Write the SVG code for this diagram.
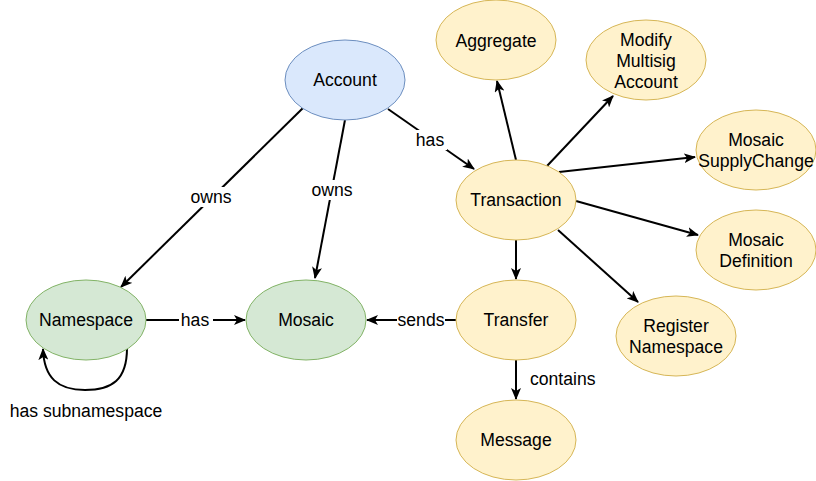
<svg xmlns="http://www.w3.org/2000/svg" width="816" height="481" viewBox="0 0 816 481">
<defs>
<marker id="arr" markerUnits="userSpaceOnUse" markerWidth="12" markerHeight="10" viewBox="0 0 12 10" refX="11" refY="5" orient="auto">
<path d="M0,0 L12,5 L0,10 L3,5 Z" fill="#000"/>
</marker>
<style>
text{font-family:"Liberation Sans",Arial,sans-serif;font-size:17.6px;fill:#000}
.n{text-anchor:middle;dominant-baseline:central}
.blue{fill:#dae8fc;stroke:#6c8ebf;stroke-width:1}
.green{fill:#d5e8d4;stroke:#82b366;stroke-width:1}
.yellow{fill:#fff2cc;stroke:#d6b656;stroke-width:1}
.e{fill:none;stroke:#000;stroke-width:2;marker-end:url(#arr)}
.lb{fill:#fff;stroke:none}
</style>
</defs>
<rect width="816" height="481" fill="#fff"/>
<g id="connectors">
<line class="e" x1="303" y1="108" x2="121" y2="287"/>
<line class="e" x1="345" y1="120" x2="315" y2="278"/>
<line class="e" x1="388" y1="109" x2="474" y2="169"/>
<line class="e" x1="516" y1="160" x2="497" y2="81"/>
<line class="e" x1="547" y1="166" x2="613" y2="96"/>
<line class="e" x1="559" y1="172" x2="695" y2="157"/>
<line class="e" x1="576" y1="201" x2="698" y2="235"/>
<line class="e" x1="558" y1="230" x2="638" y2="302"/>
<line class="e" x1="516" y1="240" x2="516" y2="279"/>
<line class="e" x1="146" y1="320" x2="245" y2="320"/>
<line class="e" x1="456" y1="320" x2="367" y2="320"/>
<line class="e" x1="516" y1="360" x2="516" y2="399"/>
<path class="e" d="M127,348 C127,380 112,390 85,390 C58,390 44,378 43,349"/>
<rect class="lb" x="187" y="187" width="48" height="20"/>
<text class="n" x="211" y="197">owns</text>
<rect class="lb" x="308" y="180" width="48" height="20"/>
<text class="n" x="332" y="190">owns</text>
<rect class="lb" x="413" y="130" width="34" height="20"/>
<text class="n" x="430" y="140">has</text>
<rect class="lb" x="179" y="310" width="34" height="20"/>
<text class="n" x="195" y="320">has</text>
<rect class="lb" x="397" y="310" width="48" height="20"/>
<text class="n" x="421" y="320">sends</text>
<text x="530" y="385">contains</text>
<text class="n" x="86" y="411">has subnamespace</text>
</g>
<g id="account"><ellipse class="blue" cx="345" cy="80" rx="60" ry="40"/><text class="n" x="345" y="80">Account</text></g>
<g id="aggregate"><ellipse class="yellow" cx="496" cy="40" rx="60" ry="40"/><text class="n" x="496" y="41">Aggregate</text></g>
<g id="modify-multisig"><ellipse class="yellow" cx="646" cy="60" rx="60" ry="40"/><text class="n" x="646" y="40">Modify</text><text class="n" x="646" y="61">Multisig</text><text class="n" x="646" y="82">Account</text></g>
<g id="mosaic-supplychange"><ellipse class="yellow" cx="756" cy="150" rx="60" ry="40"/><text class="n" x="756" y="140">Mosaic</text><text class="n" x="756" y="161">SupplyChange</text></g>
<g id="transaction"><ellipse class="yellow" cx="516" cy="200" rx="60" ry="40"/><text class="n" x="516" y="200">Transaction</text></g>
<g id="mosaic-definition"><ellipse class="yellow" cx="756" cy="250" rx="60" ry="40"/><text class="n" x="756" y="240">Mosaic</text><text class="n" x="756" y="261">Definition</text></g>
<g id="register-namespace"><ellipse class="yellow" cx="676" cy="336" rx="60" ry="40"/><text class="n" x="676" y="326">Register</text><text class="n" x="676" y="347">Namespace</text></g>
<g id="transfer"><ellipse class="yellow" cx="516" cy="320" rx="60" ry="40"/><text class="n" x="516" y="320">Transfer</text></g>
<g id="message"><ellipse class="yellow" cx="516" cy="440" rx="60" ry="40"/><text class="n" x="516" y="440">Message</text></g>
<g id="mosaic"><ellipse class="green" cx="306" cy="320" rx="60" ry="40"/><text class="n" x="306" y="320">Mosaic</text></g>
<g id="namespace"><ellipse class="green" cx="86" cy="320" rx="60" ry="40"/><text class="n" x="86" y="320">Namespace</text></g>
</svg>
